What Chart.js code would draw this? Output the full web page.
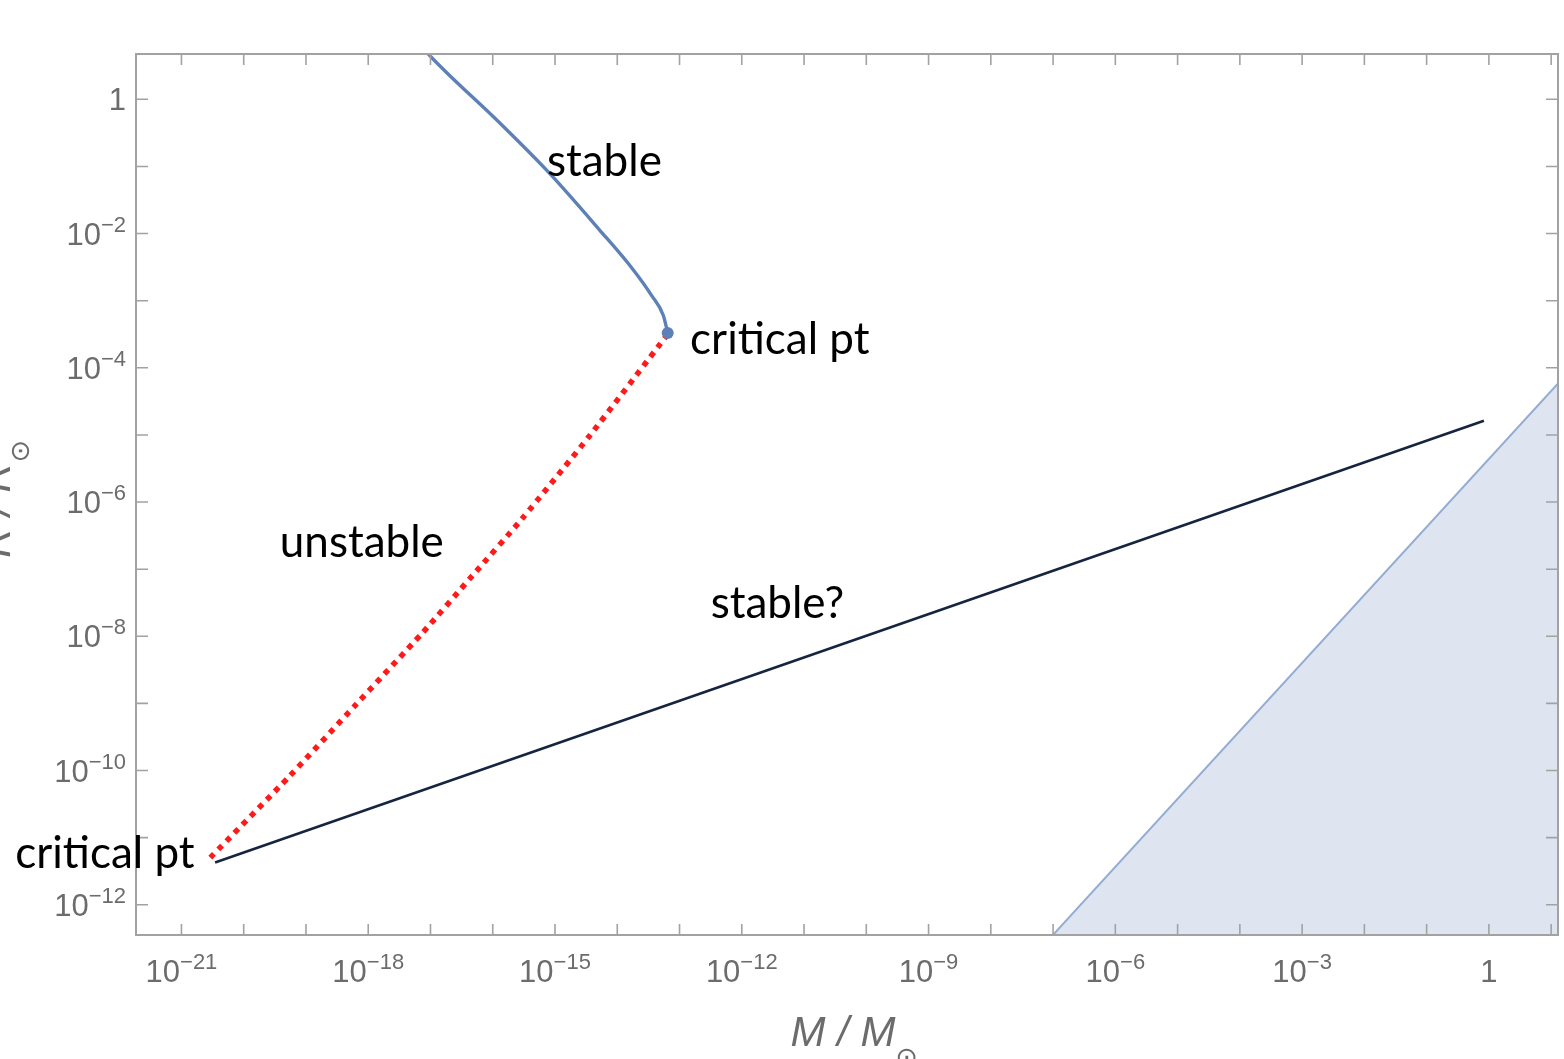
<!DOCTYPE html>
<html lang="en">
  <head>
    <meta charset="utf-8" />
    <title>Mass-radius branches</title>
    <style>
      body { margin: 0; background: #ffffff; }
      #wrap { width: 1564px; height: 1059px; position: relative; }
    </style>
  </head>
  <body>
    <div id="wrap"><canvas id="chart"></canvas></div>
    <script src="https://cdn.jsdelivr.net/npm/chart.js@4.4.1/dist/chart.umd.min.js"></script>
    <script>
      // all values are log10
      const stableLogM = [-17.15, -17.02, -15.89, -15.09, -14.29, -13.76, -13.45, -13.26, -13.19];
      const stableLogR = [0.80, 0.66, -0.35, -1.10, -1.94, -2.52, -2.92, -3.22, -3.48];

      const unstableLogM = [-13.19, -14.45, -15.53, -16.33, -17.13, -18.19, -19.26, -20.54];
      const unstableLogR = [-3.50, -5.02, -6.25, -7.10, -7.95, -9.01, -10.08, -11.30];

      const guessLogM = [-20.46, -0.08];
      const guessLogR = [-11.37, -4.79];

      const boundLogM = [-7.2, 1.5];
      const boundLogR = [-12.65, -3.84];

      const criticalLogM = [-13.19];
      const criticalLogR = [-3.48];

      const xRangeLog = [-21.73, 1.11];
      const yRangeLog = [-12.45, 0.675];
      const xLabelExps = [-21, -18, -15, -12, -9, -6, -3, 0];
      const yLabelExps = [0, -2, -4, -6, -8, -10, -12];

      const notes = [
        { text: 'stable', m: -15.13, r: -1.14 },
        { text: 'critical pt', m: -12.83, r: -3.79 },
        { text: 'unstable', m: -19.42, r: -6.82 },
        { text: 'stable?', m: -12.50, r: -7.73 },
        { text: 'critical pt', m: -23.67, r: -11.45 }
      ];

      function pts(ms, rs) {
        return ms.map((m, i) => ({ x: Math.pow(10, m), y: Math.pow(10, rs[i]) }));
      }

      const GRAY = '#a2a2a2';
      const LABEL = '#6c6c6c';

      function expLabel(ctx, exp, x, y, align) {
        // draws 10^exp (or "1") with a raised exponent
        ctx.fillStyle = LABEL;
        ctx.textBaseline = 'alphabetic';
        ctx.textAlign = 'left';
        const big = '31px "Liberation Sans", Arial, sans-serif';
        const small = '22px "Liberation Sans", Arial, sans-serif';
        let base = exp === 0 ? '1' : '10';
        let sup = exp === 0 ? '' : '\u2212' + Math.abs(exp);
        ctx.font = big;
        const wb = ctx.measureText(base).width;
        ctx.font = small;
        const ws = sup ? ctx.measureText(sup).width : 0;
        const w = wb + ws;
        let x0 = align === 'center' ? x - w / 2 : x - w;
        ctx.font = big;
        ctx.fillText(base, x0, y);
        if (sup) {
          ctx.font = small;
          ctx.fillText(sup, x0 + wb, y - 13);
        }
      }

      const framePlugin = {
        id: 'frame',
        afterDatasetsDraw(chart) {
          const { ctx, chartArea: a, scales } = chart;
          const xs = scales.x, ys = scales.y;
          ctx.save();
          ctx.strokeStyle = GRAY;
          ctx.lineWidth = 2;
          ctx.strokeRect(a.left, a.top, a.right - a.left, a.bottom - a.top);
          ctx.lineWidth = 1.6;
          ctx.beginPath();
          for (let k = Math.ceil(xRangeLog[0]); k <= Math.floor(xRangeLog[1]); k++) {
            const px = xs.getPixelForValue(Math.pow(10, k));
            ctx.moveTo(px, a.bottom); ctx.lineTo(px, a.bottom - 11);
            ctx.moveTo(px, a.top); ctx.lineTo(px, a.top + 11);
          }
          for (let k = Math.ceil(yRangeLog[0]); k <= Math.floor(yRangeLog[1]); k++) {
            const py = ys.getPixelForValue(Math.pow(10, k));
            ctx.moveTo(a.left, py); ctx.lineTo(a.left + 12, py);
            ctx.moveTo(a.right, py); ctx.lineTo(a.right - 12, py);
          }
          ctx.stroke();

          xLabelExps.forEach(k => {
            expLabel(ctx, k, xs.getPixelForValue(Math.pow(10, k)), a.bottom + 47, 'center');
          });
          yLabelExps.forEach(k => {
            expLabel(ctx, k, a.left - 10, ys.getPixelForValue(Math.pow(10, k)) + 11, 'right');
          });

          // axis titles
          ctx.fillStyle = LABEL;
          ctx.textAlign = 'left';
          ctx.font = 'italic 42px "Liberation Sans", Arial, sans-serif';
          const tx = 'M / M';
          const w1 = ctx.measureText(tx).width;
          const cx = (a.left + a.right) / 2 + 10;
          ctx.fillText(tx, cx - w1 / 2 - 14, a.bottom + 111);
          ctx.font = '27px "DejaVu Sans", sans-serif';
          ctx.fillText('\u2299', cx + w1 / 2 - 14, a.bottom + 131);

          ctx.translate(10, 498);
          ctx.rotate(-Math.PI / 2);
          ctx.font = 'italic 42px "Liberation Sans", Arial, sans-serif';
          const ty = 'R / R';
          const w2 = ctx.measureText(ty).width;
          ctx.fillText(ty, -w2 / 2 - 12, 0);
          ctx.font = '27px "DejaVu Sans", sans-serif';
          ctx.fillText('\u2299', w2 / 2 - 12, 19);
          ctx.restore();

          // text notes
          ctx.save();
          ctx.fillStyle = '#000000';
          ctx.font = '44px Lato, "Open Sans", sans-serif';
          ctx.textAlign = 'left';
          ctx.textBaseline = 'alphabetic';
          notes.forEach(n => {
            ctx.fillText(n.text, xs.getPixelForValue(Math.pow(10, n.m)), ys.getPixelForValue(Math.pow(10, n.r)));
          });
          ctx.restore();
        }
      };

      const lineBase = {
        showLine: true,
        pointRadius: 0,
        pointHoverRadius: 0,
        tension: 0,
        fill: false
      };

      new Chart(document.getElementById('chart'), {
        type: 'scatter',
        data: {
          datasets: [{
            label: 'bound',
            data: pts(boundLogM, boundLogR),
            borderColor: '#93acd4',
            borderWidth: 2,
            backgroundColor: '#dfe5f0',
            ...lineBase,
            fill: 'start',
            order: 5
          }, {
            label: 'stable?',
            data: pts(guessLogM, guessLogR),
            borderColor: '#16253f',
            borderWidth: 2.6,
            ...lineBase,
            order: 4
          }, {
            label: 'unstable',
            data: pts(unstableLogM, unstableLogR),
            borderColor: '#ff1a1a',
            borderWidth: 5.5,
            borderDash: [5.5, 6],
            ...lineBase,
            tension: 0.2,
            order: 3
          }, {
            label: 'stable',
            data: pts(stableLogM, stableLogR),
            borderColor: '#5d80b6',
            borderWidth: 3.4,
            ...lineBase,
            cubicInterpolationMode: 'monotone',
            order: 2
          }, {
            label: 'critical',
            data: pts(criticalLogM, criticalLogR),
            showLine: false,
            pointRadius: 6,
            pointBackgroundColor: '#5d80b6',
            pointBorderWidth: 0,
            order: 1
          }]
        },
        options: {
          responsive: true,
          maintainAspectRatio: false,
          animation: false,
          layout: { padding: { left: 136, top: 54, right: 2, bottom: 124 } },
          plugins: {
            legend: { display: false },
            tooltip: { enabled: false }
          },
          scales: {
            x: {
              type: 'logarithmic',
              display: false,
              min: Math.pow(10, xRangeLog[0]),
              max: Math.pow(10, xRangeLog[1])
            },
            y: {
              type: 'logarithmic',
              display: false,
              min: Math.pow(10, yRangeLog[0]),
              max: Math.pow(10, yRangeLog[1])
            }
          }
        },
        plugins: [framePlugin]
      });
    </script>
  </body>
</html>
